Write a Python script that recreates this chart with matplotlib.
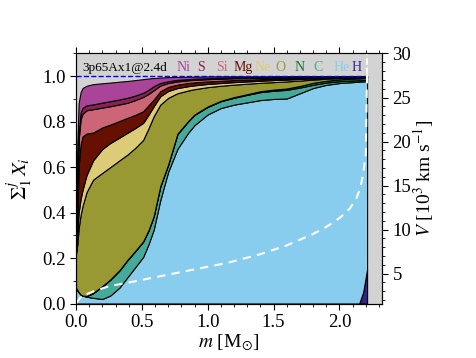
import numpy as np
import matplotlib
matplotlib.use("Agg")
import matplotlib.pyplot as plt
from matplotlib.ticker import MultipleLocator, FormatStrFormatter

plt.rcParams['font.family'] = ['Liberation Serif', 'DejaVu Serif']
plt.rcParams['mathtext.fontset'] = 'stix'

model_label = "3p65Ax1@2.4d"
mass_max = 2.21

# mass coordinate (Msun)
m = [0.0, 0.01, 0.02, 0.035, 0.05, 0.08, 0.13, 0.2, 0.26, 0.33, 0.39, 0.45, 0.51,
     0.55, 0.59, 0.64, 0.7, 0.77, 0.85, 0.9, 1.0, 1.1, 1.2, 1.3, 1.4, 1.5, 1.6,
     1.7, 1.8, 1.9, 2.0, 2.1, 2.15, 2.18, 2.21]

# cumulative mass fractions (sum of species from H up to the named one)
cum_H = [0, 0, 0, 0, 0, 0, 0, 0, 0, 0, 0, 0, 0,
         0, 0, 0, 0, 0, 0, 0, 0, 0, 0, 0, 0, 0, 0,
         0, 0, 0, 0, 0, 0, 0.05, 0.15]
cum_He = [0.07, 0.06, 0.05, 0.04, 0.035, 0.03, 0.025, 0.02, 0.035, 0.07, 0.115, 0.16, 0.205,
          0.26, 0.325, 0.455, 0.58, 0.68, 0.75, 0.785, 0.832, 0.86, 0.875, 0.885, 0.895, 0.9, 0.902,
          0.925, 0.948, 0.962, 0.97, 0.974, 0.976, 0.977, 0.978]
cum_C = [0.07, 0.06, 0.05, 0.04, 0.035, 0.032, 0.045, 0.075, 0.104, 0.145, 0.19, 0.23, 0.272,
         0.32, 0.383, 0.515, 0.61, 0.745, 0.8, 0.83, 0.865, 0.89, 0.905, 0.918, 0.93, 0.936, 0.94,
         0.95, 0.962, 0.972, 0.978, 0.981, 0.982, 0.983, 0.984]
cum_N = [0.07, 0.06, 0.05, 0.04, 0.035, 0.033, 0.047, 0.077, 0.106, 0.147, 0.192, 0.232, 0.274,
         0.322, 0.385, 0.517, 0.612, 0.747, 0.802, 0.832, 0.867, 0.892, 0.908, 0.921, 0.934, 0.941, 0.946,
         0.957, 0.971, 0.98, 0.986, 0.99, 0.991, 0.992, 0.993]
cum_O = [0.22, 0.26, 0.33, 0.39, 0.43, 0.49, 0.545, 0.575, 0.6, 0.63, 0.655, 0.685, 0.72,
         0.77, 0.824, 0.875, 0.905, 0.925, 0.937, 0.943, 0.952, 0.958, 0.963, 0.967, 0.971, 0.974, 0.977,
         0.981, 0.985, 0.989, 0.992, 0.995, 0.996, 0.996, 0.997]
cum_Ne = [0.225, 0.3, 0.4, 0.46, 0.5, 0.565, 0.63, 0.68, 0.706, 0.73, 0.751, 0.772, 0.795,
          0.83, 0.868, 0.912, 0.935, 0.948, 0.956, 0.96, 0.966, 0.97, 0.974, 0.977, 0.98, 0.983, 0.985,
          0.988, 0.99, 0.993, 0.995, 0.997, 0.997, 0.998, 0.998]
cum_Mg = [0.23, 0.4, 0.6, 0.7, 0.735, 0.748, 0.752, 0.775, 0.787, 0.803, 0.817, 0.83, 0.846,
          0.872, 0.897, 0.934, 0.953, 0.963, 0.97, 0.973, 0.977, 0.98, 0.983, 0.985, 0.987, 0.989, 0.99,
          0.992, 0.994, 0.995, 0.997, 0.998, 0.998, 0.999, 0.999]
cum_Si = [0.24, 0.48, 0.72, 0.81, 0.835, 0.85, 0.855, 0.862, 0.868, 0.876, 0.883, 0.895, 0.909,
          0.922, 0.938, 0.959, 0.97, 0.977, 0.982, 0.984, 0.987, 0.989, 0.991, 0.992, 0.993, 0.994, 0.995,
          0.996, 0.997, 0.998, 0.998, 0.999, 0.999, 0.999, 0.999]
cum_S = [0.245, 0.5, 0.75, 0.84, 0.86, 0.872, 0.876, 0.884, 0.89, 0.898, 0.905, 0.915, 0.927,
         0.94, 0.956, 0.97, 0.978, 0.984, 0.987, 0.989, 0.991, 0.993, 0.994, 0.995, 0.996, 0.997, 0.997,
         0.998, 0.998, 0.998, 0.999, 0.999, 0.999, 0.999, 0.999]
cum_Ni = [0.25, 0.7, 0.88, 0.93, 0.948, 0.958, 0.965, 0.969, 0.972, 0.976, 0.979, 0.983, 0.987,
          0.99, 0.992, 0.994, 0.996, 0.997, 0.998, 0.998, 0.999, 0.9995, 0.9995, 0.9995, 0.9995, 0.9995, 0.9995,
          0.9995, 0.9995, 0.9995, 0.9995, 1.0, 1.0, 1.0, 1.0]

species = ['H', 'He', 'C', 'N', 'O', 'Ne', 'Mg', 'Si', 'S', 'Ni']
colors = ['#332288', '#88CCEE', '#44AA99', '#117733', '#999933', '#DDCC77',
          '#661100', '#CC6677', '#882255', '#AA4499']
cumulative = [cum_H, cum_He, cum_C, cum_N, cum_O, cum_Ne, cum_Mg, cum_Si, cum_S, cum_Ni]

# label positions along top (mass coordinate)
label_x = [2.13, 2.02, 1.84, 1.70, 1.55, 1.42, 1.27, 1.11, 0.95, 0.82]

# velocity profile (10^3 km/s)
m_v = [0.0, 0.04, 0.135, 0.26, 0.39, 0.64, 0.89, 1.145, 1.4, 1.6, 1.8, 1.9, 2.0,
       2.08, 2.13, 2.16, 2.18, 2.2, 2.21]
vel = [1.6, 2.4, 3.0, 3.6, 3.95, 4.7, 5.45, 6.2, 7.2, 8.2, 9.5, 10.3, 11.3,
       12.4, 13.6, 14.8, 16.3, 18.5, 28.0]

fig = plt.figure(figsize=(4.77, 3.58), dpi=100)
ax = fig.add_axes([0.1593, 0.1522, 0.6415, 0.6984])
ax.set_facecolor('#d3d3d3')

mm = np.array(m)
lower = np.zeros_like(mm)
for name, col, cum in zip(species, colors, cumulative):
    upper = np.array(cum)
    ax.fill_between(mm, lower, upper, facecolor=col, edgecolor='black', lw=0.8, zorder=2)
    lower = upper

ax.axvline(mass_max, color='white', ls='--', lw=1.3, zorder=1)
ax.hlines(1.0, 0, mass_max, colors='blue', linestyles='--', lw=1.0, zorder=4)

ax.text(0.05, 1.022, model_label, fontsize=9.5, ha='left', va='baseline', zorder=5)
for name, col, lx in zip(species, colors, label_x):
    ax.text(lx, 1.022, name, color=col, fontsize=10, ha='center', va='baseline', zorder=5)

ax.set_xlim(0, 2.323)
ax.set_ylim(0, 1.1)
ax.xaxis.set_major_locator(MultipleLocator(0.5))
ax.xaxis.set_minor_locator(MultipleLocator(0.1))
ax.yaxis.set_major_locator(MultipleLocator(0.2))
ax.yaxis.set_minor_locator(MultipleLocator(0.1))
ax.xaxis.set_major_formatter(FormatStrFormatter('%.1f'))
ax.yaxis.set_major_formatter(FormatStrFormatter('%.1f'))
ax.tick_params(axis='both', which='major', labelsize=13.5, length=4.5, width=0.8, direction='out', pad=3)
ax.tick_params(axis='both', which='minor', length=2.5, width=0.6, direction='out')
ax.tick_params(axis='x', which='both', top=True)
ax.set_xlabel(r'$m$ [M$_{\odot}$]', fontsize=14, labelpad=1)
ax.set_ylabel(r'$\Sigma_1^j\, X_i$', fontsize=15, labelpad=5)

ax2 = ax.twinx()
ax2.plot(m_v, vel, color='white', ls='--', lw=1.5, dashes=(4, 3))
ax2.set_ylim(1.6, 30)
ax2.yaxis.set_major_locator(MultipleLocator(5))
ax2.yaxis.set_minor_locator(MultipleLocator(1))
ax2.tick_params(axis='y', which='major', labelsize=13.5, length=4.5, width=0.8, direction='out', pad=3)
ax2.tick_params(axis='y', which='minor', length=2.5, width=0.6, direction='out')
ax2.set_ylabel(r'$V$ [10$^3$ km s$^{-1}$]', fontsize=14, labelpad=0)
ax2.set_xlim(0, 2.323)

fig.savefig('out.png', dpi=100)
